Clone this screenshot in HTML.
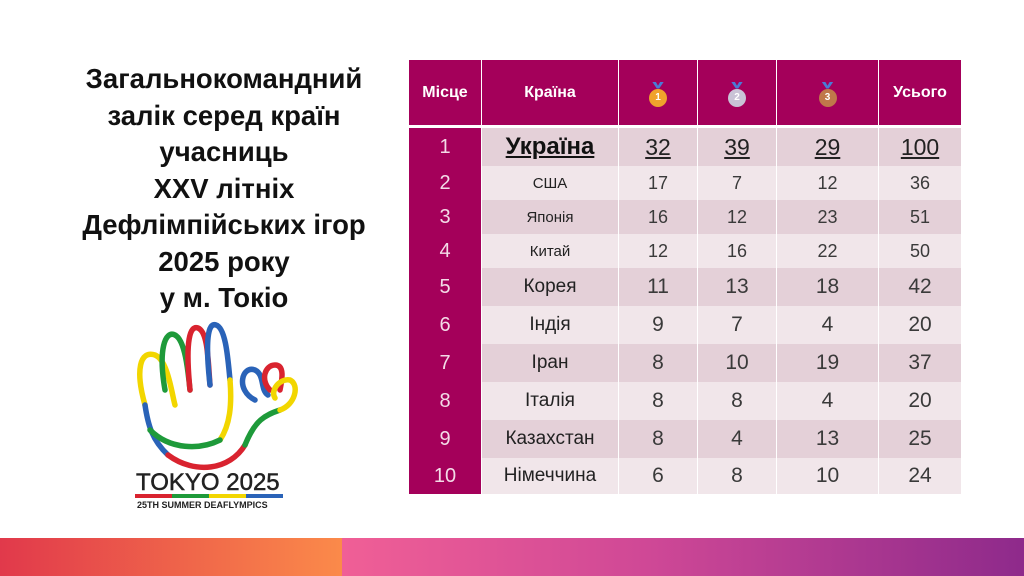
<!DOCTYPE html>
<html><head><meta charset="utf-8"><style>
body{margin:0;width:1024px;height:576px;background:#fff;position:relative;overflow:hidden;font-family:"Liberation Sans","DejaVu Sans",sans-serif}
.title{position:absolute;left:44px;width:360px;top:61px;text-align:center;font-weight:bold;font-size:27.5px;line-height:36.5px;color:#111}
table{position:absolute;left:409px;top:60px;border-collapse:separate;border-spacing:1px 0;margin-left:-1px}
td{padding:0;text-align:center;color:#3a3a3a;font-weight:normal}
tr.h td{background:#a4005a;color:#fff;font-weight:bold;font-size:16px;height:65px;border-bottom:3px solid #fff}
tr.d td:not(.c){background:#e4d0d8}
tr.l td:not(.c){background:#f1e6ea}
tr.s td{font-size:18px}tr.s td.n{font-size:15px;color:#222}
tr.b td{font-size:21px}tr.b td.n{font-size:19px;color:#222}
tr.u td{font-size:23px;text-decoration:underline;color:#222}
tr.u td.n{font-weight:bold;font-size:24px;color:#111}
table tr td.c{background:#a4005a;color:#f3dbe7;font-size:20px;text-decoration:none;font-weight:normal}
.band1{position:absolute;left:0;top:538px;width:342px;height:38px;background:linear-gradient(90deg,#e1394b,#fb8a4a)}
.band2{position:absolute;left:342px;top:538px;width:682px;height:38px;background:linear-gradient(90deg,#f05f96,#cf4896 45%,#8e2a8b)}
.medal{display:inline-block;width:18px;height:18px;border-radius:50%;position:relative;top:4px;font-size:10px;line-height:18px;color:#fff}
.medal:before{content:"";position:absolute;left:3px;top:-7px;width:12px;height:7px;background:#4a7bd6;clip-path:polygon(0 0,30% 0,50% 60%,70% 0,100% 0,60% 100%,40% 100%)}
</style></head><body>
<div class="title">Загальнокомандний<br>залік серед країн<br>учасниць<br>XXV літніх<br>Дефлімпійських ігор<br>2025 року<br>у м. Токіо</div>
<svg style="position:absolute;left:120px;top:310px" width="200" height="210" viewBox="0 0 200 210">
<g fill="none" stroke-width="5.5" stroke-linecap="round">
<path d="M25 95 C15 60 20 40 35 45 C48 50 52 85 55 95" stroke="#f2d600"/>
<path d="M25 95 C28 115 32 130 48 145" stroke="#2a63b8"/>
<path d="M45 80 C38 40 45 20 55 25 C65 30 68 60 70 80" stroke="#1e9a3a"/>
<path d="M70 80 C65 30 70 15 78 18 C88 22 88 50 90 75" stroke="#d9232f"/>
<path d="M90 75 C85 30 88 12 96 15 C106 18 108 50 110 70" stroke="#2a63b8"/>
<path d="M110 70 C112 95 110 115 100 130" stroke="#f2d600"/>
<path d="M48 145 C75 165 110 160 125 135" stroke="#d9232f"/>
<path d="M30 120 C50 140 80 140 100 130" stroke="#1e9a3a"/>
<path d="M125 135 C135 110 145 105 160 100" stroke="#1e9a3a"/>
<path d="M135 90 C115 80 122 55 135 60 C145 65 140 80 148 85" stroke="#2a63b8"/>
<path d="M150 80 C140 70 145 55 155 55 C165 55 162 70 160 80" stroke="#d9232f"/>
<path d="M160 100 C175 95 180 75 170 70 C160 68 150 80 155 88" stroke="#f2d600"/>
</g>
<text x="16" y="180" font-family="Liberation Sans" font-size="24" fill="#222" stroke="#222" stroke-width="0.5">TOKYO 2025</text>
<rect x="15" y="184" width="37" height="4" fill="#d9232f"/><rect x="52" y="184" width="37" height="4" fill="#1e9a3a"/><rect x="89" y="184" width="37" height="4" fill="#f2d600"/><rect x="126" y="184" width="37" height="4" fill="#2a63b8"/>
<text x="17" y="198" font-family="Liberation Sans" font-weight="bold" font-size="9" fill="#222">25TH SUMMER DEAFLYMPICS</text>
</svg>
<table>
<tr class="h"><td style="width:72px">Місце</td><td style="width:136px">Країна</td><td style="width:78px"><span class="medal" style="background:#f0a22c">1</span></td><td style="width:78px"><span class="medal" style="background:#c9c3d6">2</span></td><td style="width:101px"><span class="medal" style="background:#c0784a">3</span></td><td style="width:82px">Усього</td></tr>
<tr class="d u" style="height:38px"><td class="c">1</td><td class="n">Україна</td><td>32</td><td>39</td><td>29</td><td>100</td></tr>
<tr class="l s" style="height:34px"><td class="c">2</td><td class="n">США</td><td>17</td><td>7</td><td>12</td><td>36</td></tr>
<tr class="d s" style="height:34px"><td class="c">3</td><td class="n">Японія</td><td>16</td><td>12</td><td>23</td><td>51</td></tr>
<tr class="l s" style="height:34px"><td class="c">4</td><td class="n">Китай</td><td>12</td><td>16</td><td>22</td><td>50</td></tr>
<tr class="d b" style="height:38px"><td class="c">5</td><td class="n">Корея</td><td>11</td><td>13</td><td>18</td><td>42</td></tr>
<tr class="l b" style="height:38px"><td class="c">6</td><td class="n">Індія</td><td>9</td><td>7</td><td>4</td><td>20</td></tr>
<tr class="d b" style="height:38px"><td class="c">7</td><td class="n">Іран</td><td>8</td><td>10</td><td>19</td><td>37</td></tr>
<tr class="l b" style="height:38px"><td class="c">8</td><td class="n">Італія</td><td>8</td><td>8</td><td>4</td><td>20</td></tr>
<tr class="d b" style="height:38px"><td class="c">9</td><td class="n">Казахстан</td><td>8</td><td>4</td><td>13</td><td>25</td></tr>
<tr class="l b" style="height:36px"><td class="c">10</td><td class="n">Німеччина</td><td>6</td><td>8</td><td>10</td><td>24</td></tr>
</table>
<div class="band1"></div><div class="band2"></div>
</body></html>
